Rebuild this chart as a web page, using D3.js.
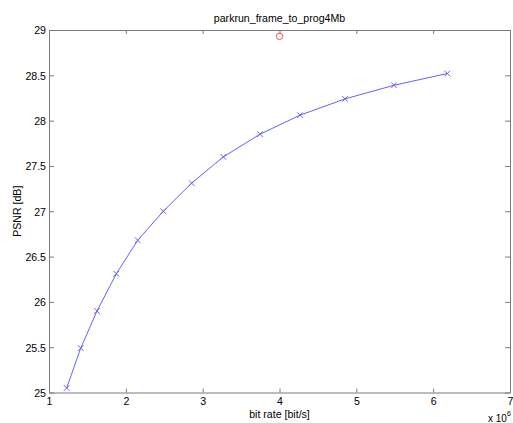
<!DOCTYPE html>
<html>
<head>
<meta charset="utf-8">
<script src="https://cdn.jsdelivr.net/npm/d3@7"></script>
<style>
  body { margin: 0; background: #fff; }
  svg text { font-family: "Liberation Sans", Arial, sans-serif; fill: #000; }
</style>
</head>
<body>
<div id="chart"></div>
<script>
// bit rate values are in units of 10^6 bit/s
const bitRate = [1.230, 1.413, 1.625, 1.876, 2.155, 2.488, 2.857, 3.269, 3.746, 4.267, 4.853, 5.490, 6.184];
const psnr = [25.05, 25.49, 25.90, 26.31, 26.68, 27.00, 27.31, 27.60, 27.85, 28.06, 28.24, 28.39, 28.52];
const refPoint = [4.0, 28.93];
const xTicks = [1, 2, 3, 4, 5, 6, 7];
const yTicks = [25, 25.5, 26, 26.5, 27, 27.5, 28, 28.5, 29];

const width = 513, height = 423;
const margin = { left: 49, right: 3, top: 30, bottom: 30.5 };

const svg = d3.select('#chart').append('svg')
    .attr('width', width)
    .attr('height', height);

const x = d3.scaleLinear().domain([1, 7]).range([margin.left, width - margin.right]);
const y = d3.scaleLinear().domain([25, 29]).range([height - margin.bottom, margin.top]);

const axisColor = '#7a7a7a';
const fs = '10.6px';

// axes box with inward ticks on all four sides
const axBottom = svg.append('g')
    .attr('transform', `translate(0,${y(25)})`)
    .call(d3.axisBottom(x).tickValues(xTicks).tickSizeInner(-4).tickSizeOuter(0).tickFormat(d3.format('d')));
const axTop = svg.append('g')
    .attr('transform', `translate(0,${y(29)})`)
    .call(d3.axisTop(x).tickValues(xTicks).tickSizeInner(-4).tickSizeOuter(0).tickFormat(''));
const axLeft = svg.append('g')
    .attr('transform', `translate(${x(1)},0)`)
    .call(d3.axisLeft(y).tickValues(yTicks).tickSizeInner(-5).tickSizeOuter(0).tickFormat(d => d3.format('')(d)));
const axRight = svg.append('g')
    .attr('transform', `translate(${x(7)},0)`)
    .call(d3.axisRight(y).tickValues(yTicks).tickSizeInner(-5).tickSizeOuter(0).tickFormat(''));

[axBottom, axTop, axLeft, axRight].forEach(g => {
    g.select('.domain').attr('stroke', axisColor);
    g.selectAll('.tick line').attr('stroke', axisColor);
    g.selectAll('.tick text').attr('font-size', fs).attr('fill', '#000')
        .style('font-family', '"Liberation Sans", Arial, sans-serif');
});
axBottom.selectAll('.tick text').attr('dy', null).attr('y', 12.5);
axLeft.selectAll('.tick text').attr('x', -3).attr('dy', '0.36em');

// series line
const line = d3.line()
    .x((d, i) => x(bitRate[i]))
    .y(d => y(d));

svg.append('path')
    .datum(psnr)
    .attr('fill', 'none')
    .attr('stroke', '#6262ff')
    .attr('stroke-width', 1)
    .attr('d', line);

// x markers
const m = 2.8;
svg.append('g').selectAll('path')
    .data(psnr)
  .enter().append('path')
    .attr('transform', (d, i) => `translate(${x(bitRate[i])},${y(d)})`)
    .attr('d', `M${-m},${-m}L${m},${m}M${-m},${m}L${m},${-m}`)
    .attr('stroke', '#6262ff')
    .attr('stroke-width', 1)
    .attr('fill', 'none');

// reference point
svg.append('circle')
    .attr('cx', x(refPoint[0]))
    .attr('cy', y(refPoint[1]))
    .attr('r', 3.2)
    .attr('fill', 'none')
    .attr('stroke', '#ff5050')
    .attr('stroke-width', 1);

// title and labels
svg.append('text')
    .attr('x', (x(1) + x(7)) / 2)
    .attr('y', 22)
    .attr('text-anchor', 'middle')
    .attr('font-size', fs)
    .text('parkrun_frame_to_prog4Mb');

svg.append('text')
    .attr('x', (x(1) + x(7)) / 2)
    .attr('y', 418)
    .attr('text-anchor', 'middle')
    .attr('font-size', fs)
    .text('bit rate [bit/s]');

svg.append('text')
    .attr('transform', `translate(21,${(y(25) + y(29)) / 2}) rotate(-90)`)
    .attr('text-anchor', 'middle')
    .attr('font-size', fs)
    .text('PSNR [dB]');

const expo = svg.append('text')
    .attr('x', 488)
    .attr('y', 422)
    .attr('font-size', '10px');
expo.append('tspan').text('x 10');
expo.append('tspan').attr('dy', -6).attr('font-size', '7px').text('6');
</script>
</body>
</html>
